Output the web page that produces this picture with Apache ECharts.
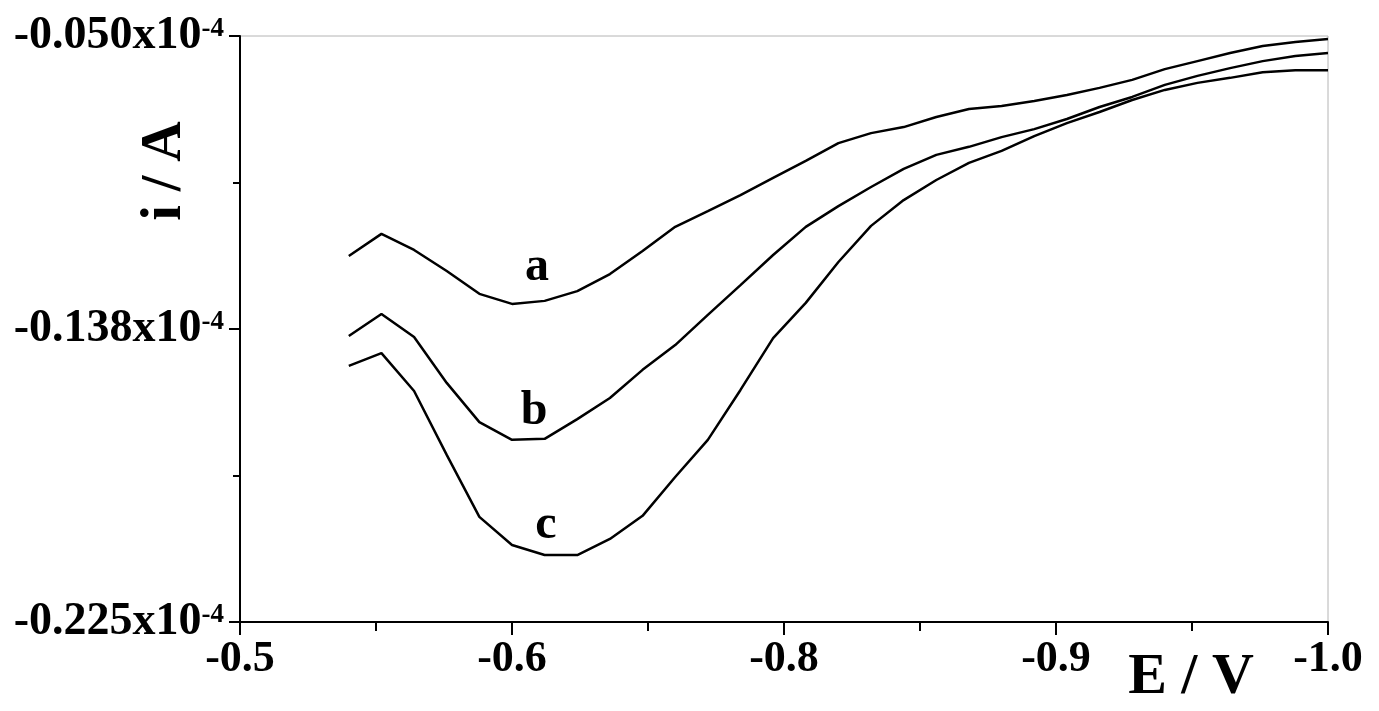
<!DOCTYPE html>
<html>
<head>
<meta charset="utf-8">
<script src="https://cdn.jsdelivr.net/npm/echarts@6/dist/echarts.min.js"></script>
<style>
  html, body { margin: 0; padding: 0; background: #fff; }
  #main { width: 1379px; height: 711px; }
</style>
</head>
<body>
<div id="main"></div>
<script>
// potential (V), one point every 15 mV
var potential = [-0.550, -0.565, -0.580, -0.595, -0.610, -0.625, -0.640, -0.655, -0.670, -0.685,
                 -0.700, -0.715, -0.730, -0.745, -0.760, -0.775, -0.790, -0.805, -0.820, -0.835,
                 -0.850, -0.865, -0.880, -0.895, -0.910, -0.925, -0.940, -0.955, -0.970, -0.985, -1.000];

// current in units of 1e-4 A
var curveA = [-0.1157, -0.1091, -0.1139, -0.1202, -0.1270, -0.1300, -0.1291, -0.1262, -0.1211, -0.1142,
              -0.1070, -0.1023, -0.0975, -0.0924, -0.0873, -0.0820, -0.0790, -0.0772, -0.0742, -0.0718,
              -0.0709, -0.0694, -0.0676, -0.0655, -0.0631, -0.0599, -0.0575, -0.0551, -0.0530, -0.0518, -0.0509];
var curveB = [-0.1396, -0.1330, -0.1399, -0.1536, -0.1653, -0.1706, -0.1703, -0.1644, -0.1581, -0.1497,
              -0.1423, -0.1333, -0.1244, -0.1154, -0.1070, -0.1008, -0.0951, -0.0897, -0.0855, -0.0831,
              -0.0802, -0.0778, -0.0748, -0.0712, -0.0682, -0.0646, -0.0619, -0.0596, -0.0575, -0.0560, -0.0551];
var curveC = [-0.1485, -0.1447, -0.1560, -0.1751, -0.1936, -0.2020, -0.2050, -0.2050, -0.2002, -0.1933,
              -0.1817, -0.1706, -0.1557, -0.1402, -0.1297, -0.1175, -0.1067, -0.0990, -0.0930, -0.0879,
              -0.0843, -0.0799, -0.0760, -0.0727, -0.0691, -0.0661, -0.0640, -0.0625, -0.0608, -0.0602, -0.0602];

var curveNames = ['a', 'b', 'c'];
var curveNameAt = [[-0.6365, -0.1193], [-0.6351, -0.1623], [-0.6406, -0.1963]];

var xTickLabels = ['-0.5', '-0.6', '-0.8', '-0.9', '-1.0'];
var yTickValues = [-0.225, -0.1375, -0.05];
var yTickLabels = ['-0.225', '-0.138', '-0.050'];
var yMinorTicks = [-0.18125, -0.09375];

var serif = 'Liberation Serif';

function pairs(ys) {
    var out = [];
    for (var i = 0; i < ys.length; i++) out.push([potential[i], ys[i]]);
    return out;
}

var myChart = echarts.init(document.getElementById('main'));

var curves = [curveA, curveB, curveC];
var series = [];
for (var i = 0; i < curves.length; i++) {
    series.push({
        type: 'line',
        data: pairs(curves[i]),
        symbol: 'none',
        lineStyle: { color: '#000', width: 2.5 },
        animation: false,
        z: 3
    });
}
// curve letters
var letterData = [];
for (var j = 0; j < curveNames.length; j++) {
    letterData.push([curveNameAt[j][0], curveNameAt[j][1], curveNames[j]]);
}
series.push({
    type: 'scatter',
    data: letterData,
    symbolSize: 0,
    animation: false,
    itemStyle: { color: '#000', opacity: 1 },
    label: {
        show: true,
        position: 'inside',
        formatter: function (p) { return p.data[2]; },
        color: '#000',
        textBorderWidth: 0,
        fontFamily: serif,
        fontWeight: 'bold',
        fontSize: 48
    }
});

option = {
    backgroundColor: '#fff',
    grid: {
        left: 240, right: 51, top: 36, bottom: 89,
        show: true, borderColor: '#b4b4b4', borderWidth: 1
    },
    xAxis: {
        type: 'value',
        inverse: true,
        min: -1.0,
        max: -0.5,
        interval: 0.125,
        axisLine: { lineStyle: { color: '#000', width: 2 } },
        axisTick: { length: 13, lineStyle: { color: '#000', width: 2 } },
        minorTick: { show: true, splitNumber: 2, length: 9, lineStyle: { color: '#000', width: 2 } },
        splitLine: { show: false },
        axisLabel: {
            margin: 16,
            color: '#000',
            fontFamily: serif,
            fontWeight: 'bold',
            fontSize: 44,
            formatter: function (v) {
                var k = Math.round((-0.5 - v) / 0.125);
                return xTickLabels[k];
            }
        }
    },
    yAxis: [{
        type: 'value',
        min: -0.225,
        max: -0.05,
        axisLine: { show: true, lineStyle: { color: '#000', width: 2 } },
        axisTick: { show: true, length: 11, customValues: yTickValues, lineStyle: { color: '#000', width: 2 } },
        splitLine: { show: false },
        axisLabel: {
            margin: 16,
            customValues: yTickValues,
            formatter: function (v) {
                var k = Math.round((v + 0.225) / 0.0875);
                return '{m|' + yTickLabels[k] + 'x10}{s|-4}';
            },
            rich: {
                m: { fontFamily: serif, fontWeight: 'bold', fontSize: 46, color: '#000', lineHeight: 46, verticalAlign: 'bottom' },
                s: { fontFamily: serif, fontWeight: 'bold', fontSize: 27, color: '#000', lineHeight: 27, verticalAlign: 'top', padding: [3, 0, 0, 0] }
            }
        }
    }, {
        type: 'value',
        min: -0.225,
        max: -0.05,
        position: 'left',
        axisLine: { show: false },
        axisTick: { show: true, length: 7, customValues: yMinorTicks, lineStyle: { color: '#000', width: 2 } },
        axisLabel: { show: false },
        splitLine: { show: false }
    }],
    graphic: [{
        type: 'text',
        x: 1191, y: 678,
        style: {
            text: 'E / V',
            font: 'bold 58px "Liberation Serif"',
            fill: '#000',
            align: 'center',
            verticalAlign: 'middle'
        }
    }, {
        type: 'text',
        x: 166, y: 171,
        rotation: Math.PI / 2,
        style: {
            text: 'i / A',
            font: 'bold 56px "Liberation Serif"',
            fill: '#000',
            align: 'center',
            verticalAlign: 'middle'
        }
    }],
    series: series
};
myChart.setOption(option);
</script>
</body>
</html>
